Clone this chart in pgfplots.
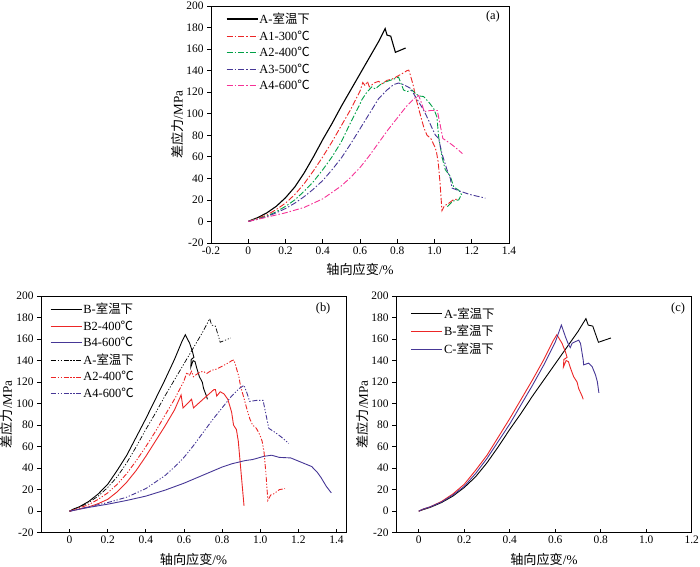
\documentclass[border=0pt]{standalone}
\usepackage{fontspec}
\setmainfont{Liberation Serif}
\newfontfamily\cjk{Noto Sans CJK SC}
\usepackage{pgfplots}
\pgfplotsset{compat=1.18}
\definecolor{cred}{RGB}{236,38,38}
\definecolor{cgreen}{RGB}{0,160,70}
\definecolor{cpurple}{RGB}{70,55,150}
\definecolor{cpink}{RGB}{245,50,150}
\newcommand{\fs}{\fontsize{11.5}{13}\selectfont}
\newcommand{\fl}{\fontsize{13.2}{15}\selectfont}
\newcommand{\fg}{\fontsize{12.5}{14}\selectfont}
\tikzset{
  dd/.style={dash pattern=on 6bp off 2bp on 1.5bp off 2bp},
  ddd/.style={dash pattern=on 5bp off 1.8bp on 1.2bp off 1.8bp on 1.2bp off 1.8bp},
}
\pgfplotsset{
  myaxis/.style={
    scale only axis,
    axis line style={line width=0.8bp},
    tick style={black, line width=0.7bp},
    major tick length=4bp,
    xtick pos=bottom, ytick pos=left,
    xtick align=inside, ytick align=outside,
    ymin=-20, ymax=200, ytick={-20,0,20,...,200},
    yticklabels={-20,0,20,40,60,80,100,120,140,160,180,200},
    tick label style={font=\fs},
    label style={font=\fl},
    ylabel={{\cjk 差应力}/MPa},
    xlabel={{\cjk 轴向应变}/\%},
    ylabel style={at={(axis description cs:-0.112,0.5)}, anchor=center},
    xlabel style={at={(axis description cs:0.5,-0.113)}, anchor=center},
    legend style={draw=none, fill=none, font=\fg, anchor=north west,
      row sep=3.2bp, nodes={inner sep=1.2bp}},
    legend cell align=left,
    legend image code/.code={\draw[##1] (0bp,0bp) -- (31bp,0bp);},
    every axis plot/.append style={line width=0.9bp},
  }
}
\begin{document}
\begin{tikzpicture}
\path[use as bounding box] (0,0) rectangle (700bp,567bp);

% ---------------- (a)
\begin{axis}[myaxis, at={(211bp,324bp)}, anchor=south west,
  width=298bp, height=237bp,
  xmin=-0.2, xmax=1.4, xtick={-0.2,0,0.2,...,1.4},
  xticklabels={-0.2,0,0.2,0.4,0.6,0.8,1.0,1.2,1.4},
  legend style={at={(axis description cs:0.04,0.985)}}]
\addplot[black, line width=1.1bp] coordinates {(0,0) (0.02,1.5) (0.05,3.5) (0.1,8) (0.15,14) (0.2,22) (0.25,32) (0.3,45) (0.35,60) (0.4,76) (0.45,91) (0.5,107) (0.55,122) (0.6,137) (0.65,152) (0.7,167) (0.735,179) (0.745,173) (0.765,172) (0.79,157) (0.845,161)};
\addlegendentry{A-{\cjk 室温下}}
\addplot[cred, dd] coordinates {(0,0) (0.05,3) (0.1,6) (0.15,11) (0.2,17) (0.25,25) (0.3,35) (0.35,47) (0.4,60) (0.45,74) (0.5,89) (0.55,104) (0.6,121) (0.615,129) (0.628,126) (0.64,130) (0.65,125) (0.665,127) (0.682,129) (0.7,130) (0.72,128) (0.745,131) (0.77,132) (0.798,134.5) (0.834,138) (0.852,140) (0.862,140.5) (0.87,136) (0.888,125) (0.897,116) (0.91,108) (0.93,95) (0.945,86) (0.96,80) (0.98,77) (1.0,70) (1.01,65) (1.02,55) (1.03,35) (1.04,10) (1.055,15) (1.07,16) (1.1,20) (1.13,21)};
\addlegendentry{A1-300{\cjk ℃}}
\addplot[cgreen, dd] coordinates {(0,0) (0.05,2.5) (0.1,5) (0.15,9) (0.2,14) (0.25,20) (0.3,28) (0.35,37) (0.4,48) (0.45,60) (0.5,74) (0.55,92) (0.6,109) (0.61,113) (0.637,120) (0.664,125) (0.682,123) (0.709,127) (0.745,130) (0.78,132) (0.807,134) (0.816,130) (0.834,122) (0.852,120.5) (0.879,122) (0.897,119) (0.915,116.5) (0.941,116) (0.968,111) (0.995,105) (1.013,97) (1.022,79) (1.04,60) (1.058,48) (1.085,42) (1.103,32) (1.13,29) (1.145,25) (1.13,20) (1.1,19) (1.07,14) (1.06,15)};
\addlegendentry{A2-400{\cjk ℃}}
\addplot[cpurple, dd] coordinates {(0,0) (0.05,2) (0.1,4.5) (0.15,8) (0.2,12) (0.25,17) (0.3,23) (0.35,30) (0.4,38) (0.45,48) (0.5,59) (0.55,72) (0.6,86) (0.65,100) (0.7,114) (0.745,122) (0.78,127) (0.807,128.5) (0.834,127) (0.87,123.7) (0.897,116) (0.915,111) (0.941,103.6) (0.968,94) (0.987,86.6) (1.004,80.4) (1.022,77) (1.04,63) (1.067,48) (1.085,40) (1.094,31) (1.139,28) (1.19,25) (1.273,21.7)};
\addlegendentry{A3-500{\cjk ℃}}
\addplot[cpink, dd] coordinates {(0,0) (0.05,2) (0.1,4) (0.15,6) (0.2,8) (0.25,10.5) (0.3,13) (0.35,17) (0.4,21) (0.45,27) (0.5,33) (0.55,41) (0.6,50) (0.65,61) (0.7,73) (0.75,85) (0.8,96) (0.85,107) (0.89,114) (0.915,117) (0.93,110) (0.945,102) (0.98,103) (1.015,103) (1.03,90) (1.045,77) (1.08,73) (1.11,69) (1.15,63)};
\addlegendentry{A4-600{\cjk ℃}}
\node[font=\fg] at (axis description cs:0.946,0.954) {(a)};
\end{axis}

% ---------------- (b)
\begin{axis}[myaxis, at={(41bp,34.3bp)}, anchor=south west,
  width=305bp, height=236.7bp,
  xmin=-0.15, xmax=1.45, xtick={0,0.2,...,1.4},
  xticklabels={0,0.2,0.4,0.6,0.8,1.0,1.2,1.4},
  legend style={at={(axis description cs:0.02,0.985)}}]
\addplot[black] coordinates {(0,0) (0.02,2) (0.05,4) (0.1,9) (0.15,16) (0.2,25) (0.25,38) (0.3,52) (0.35,69) (0.4,86) (0.45,104) (0.5,122) (0.55,141) (0.59,158) (0.607,164) (0.63,156) (0.645,148) (0.652,143) (0.638,141) (0.636,134) (0.648,140) (0.658,139) (0.667,133) (0.681,125) (0.696,120) (0.703,114) (0.718,107) (0.723,104)};
\addlegendentry{B-{\cjk 室温下}}
\addplot[cred] coordinates {(0,0) (0.05,2) (0.1,4) (0.15,7) (0.2,11) (0.25,18) (0.3,27) (0.35,38) (0.4,51) (0.45,65) (0.5,79) (0.55,94) (0.585,108) (0.595,96) (0.64,104) (0.65,96) (0.7,104) (0.757,113) (0.765,113) (0.772,107) (0.79,111) (0.81,109) (0.83,104) (0.85,92) (0.86,80) (0.875,76) (0.885,65) (0.895,45) (0.905,25) (0.915,5)};
\addlegendentry{B2-400{\cjk ℃}}
\addplot[cpurple] coordinates {(0,0) (0.1,3.5) (0.2,6.5) (0.3,10) (0.4,14) (0.5,19.5) (0.6,26) (0.7,33.5) (0.8,41) (0.85,44) (0.92,47) (0.96,48) (1.02,51) (1.06,52) (1.1,50) (1.16,49.5) (1.215,45.5) (1.27,41.5) (1.3,36) (1.32,31) (1.347,23) (1.373,17)};
\addlegendentry{B4-600{\cjk ℃}}
\addplot[black, ddd, line width=0.7bp] coordinates {(0,0) (0.02,1.5) (0.05,3.5) (0.1,8) (0.15,14) (0.2,22) (0.25,32) (0.3,45) (0.35,60) (0.4,76) (0.45,91) (0.5,107) (0.55,122) (0.6,137) (0.65,152) (0.7,167) (0.735,179) (0.745,173) (0.765,172) (0.79,157) (0.845,161)};
\addlegendentry{A-{\cjk 室温下}}
\addplot[cred, ddd] coordinates {(0,0) (0.05,3) (0.1,6) (0.15,11) (0.2,17) (0.25,25) (0.3,35) (0.35,47) (0.4,60) (0.45,74) (0.5,89) (0.55,104) (0.6,121) (0.615,129) (0.628,126) (0.64,130) (0.65,125) (0.665,127) (0.682,129) (0.7,130) (0.72,128) (0.745,131) (0.77,132) (0.798,134.5) (0.834,138) (0.852,140) (0.862,140.5) (0.87,136) (0.888,125) (0.897,116) (0.91,108) (0.93,95) (0.945,86) (0.96,80) (0.98,77) (1.0,70) (1.01,65) (1.02,55) (1.03,35) (1.04,10) (1.055,15) (1.07,16) (1.1,20) (1.13,21)};
\addlegendentry{A2-400{\cjk ℃}}
\addplot[cpurple, ddd] coordinates {(0,0) (0.05,2) (0.1,4) (0.15,6) (0.2,8) (0.25,10.5) (0.3,13) (0.35,17) (0.4,21) (0.45,27) (0.5,33) (0.55,41) (0.6,50) (0.65,61) (0.7,73) (0.75,85) (0.8,96) (0.85,107) (0.89,114) (0.915,117) (0.93,110) (0.945,102) (0.98,103) (1.015,103) (1.03,90) (1.045,77) (1.08,73) (1.11,69) (1.15,63)};
\addlegendentry{A4-600{\cjk ℃}}
\node[font=\fg] at (axis description cs:0.925,0.949) {(b)};
\end{axis}

% ---------------- (c)
\begin{axis}[myaxis, at={(396bp,34.3bp)}, anchor=south west,
  width=295.7bp, height=236.7bp,
  xmin=-0.1, xmax=1.2, xtick={0,0.2,...,1.2},
  xticklabels={0,0.2,0.4,0.6,0.8,1.0,1.2},
  legend style={at={(axis description cs:0.04,0.965)}}]
\addplot[black] coordinates {(0,0) (0.02,1.5) (0.05,3.5) (0.1,8) (0.15,14) (0.2,22) (0.25,32) (0.3,45) (0.35,60) (0.4,76) (0.45,91) (0.5,107) (0.55,122) (0.6,137) (0.65,152) (0.7,167) (0.735,179) (0.745,173) (0.765,172) (0.79,157) (0.845,161)};
\addlegendentry{A-{\cjk 室温下}}
\addplot[cred] coordinates {(0,0) (0.02,2) (0.05,4) (0.1,9) (0.15,16) (0.2,25) (0.25,38) (0.3,52) (0.35,69) (0.4,86) (0.45,104) (0.5,122) (0.55,141) (0.59,158) (0.607,164) (0.63,156) (0.645,148) (0.652,143) (0.638,141) (0.636,134) (0.648,140) (0.658,139) (0.667,133) (0.681,125) (0.696,120) (0.703,114) (0.718,107) (0.723,104)};
\addlegendentry{B-{\cjk 室温下}}
\addplot[cpurple] coordinates {(0,0) (0.02,2) (0.05,4) (0.1,8.5) (0.15,15) (0.2,23) (0.25,35) (0.3,49) (0.35,65) (0.4,81) (0.45,99) (0.5,117) (0.55,136) (0.6,157) (0.627,173) (0.645,162) (0.659,154.6) (0.666,152) (0.674,156) (0.689,157.6) (0.703,159) (0.711,156) (0.723,140.7) (0.725,136) (0.747,137.6) (0.762,134.5) (0.777,126.7) (0.785,120.5) (0.792,110)};
\addlegendentry{C-{\cjk 室温下}}
\node[font=\fg] at (axis description cs:0.954,0.949) {(c)};
\end{axis}
\end{tikzpicture}
\end{document}
